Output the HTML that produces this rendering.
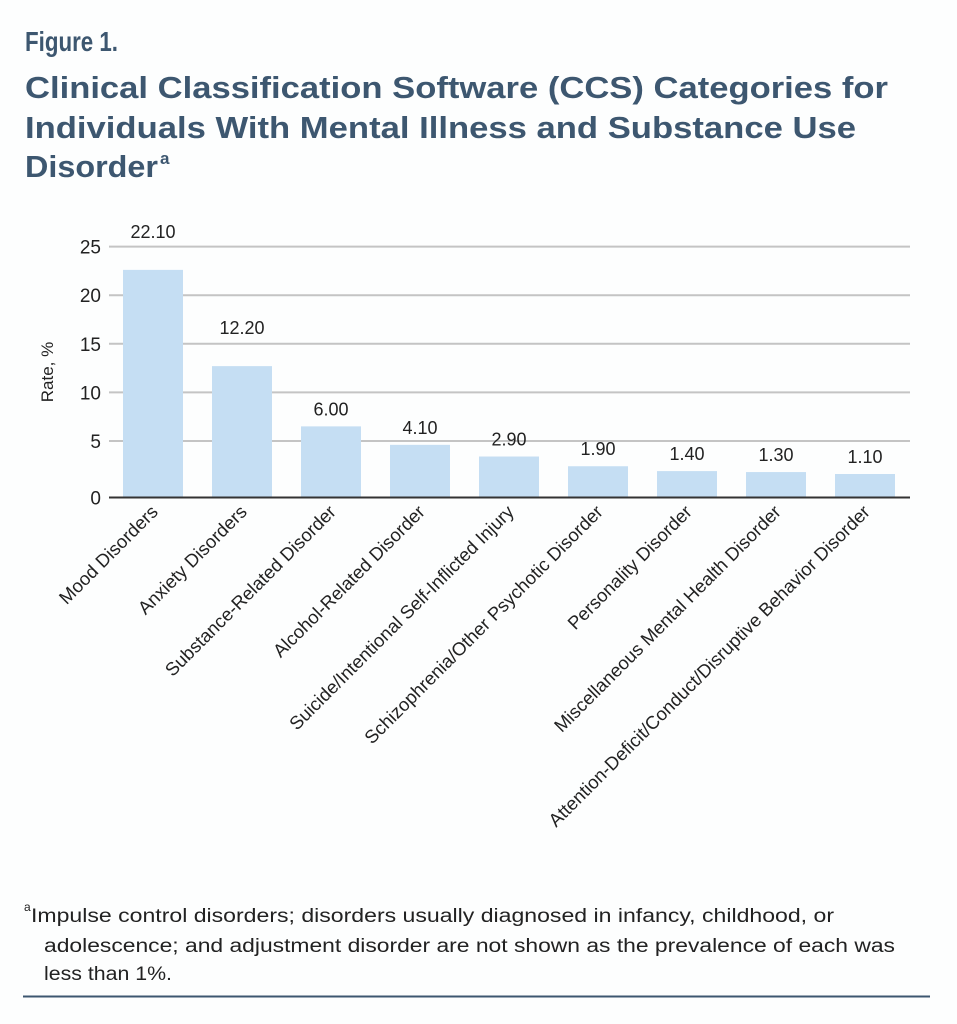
<!DOCTYPE html>
<html><head><meta charset="utf-8"><style>
html,body{margin:0;padding:0;background:#fdfefe;}
svg{display:block;font-family:"Liberation Sans",sans-serif;}
</style></head><body>
<svg id="chart" width="957" height="1024" viewBox="0 0 957 1024" xmlns="http://www.w3.org/2000/svg">
<rect x="0" y="0" width="957" height="1024" fill="#fdfefe"/>
<text x="25" y="51" font-size="28" font-weight="bold" fill="#3d5770" textLength="93" lengthAdjust="spacingAndGlyphs">Figure 1.</text>
<g font-size="31" font-weight="bold" fill="#3d5770">
<text x="25" y="98" textLength="863" lengthAdjust="spacingAndGlyphs">Clinical Classification Software (CCS) Categories for</text>
<text x="25" y="138" textLength="831" lengthAdjust="spacingAndGlyphs">Individuals With Mental Illness and Substance Use</text>
<text x="25" y="177" textLength="133" lengthAdjust="spacingAndGlyphs">Disorder</text>
<text x="160" y="164" font-size="17">a</text>
</g>
<g id="grid"></g>
<g id="bars"></g>
<g id="labels"></g>
<text transform="translate(53,372) rotate(-90)" text-anchor="middle" font-size="17" fill="#222">Rate, %</text>
<g font-size="19" fill="#222">
<text x="24" y="911" font-size="12">a</text>
<text x="31" y="922" textLength="803" lengthAdjust="spacingAndGlyphs">Impulse control disorders; disorders usually diagnosed in infancy, childhood, or</text>
<text x="44" y="952" textLength="851" lengthAdjust="spacingAndGlyphs">adolescence; and adjustment disorder are not shown as the prevalence of each was</text>
<text x="44" y="980" textLength="128" lengthAdjust="spacingAndGlyphs">less than 1%.</text>
</g>
<line x1="23" y1="996.5" x2="930" y2="996.5" stroke="#3d5770" stroke-width="2"/>
</svg>
<script>
const categories = ["Mood Disorders","Anxiety Disorders","Substance-Related Disorder","Alcohol-Related Disorder","Suicide/Intentional Self-Inflicted Injury","Schizophrenia/Other Psychotic Disorder","Personality Disorder","Miscellaneous Mental Health Disorder","Attention-Deficit/Conduct/Disruptive Behavior Disorder"];
const values = [22.10,12.20,6.00,4.10,2.90,1.90,1.40,1.30,1.10];
const valueLabels = ["22.10","12.20","6.00","4.10","2.90","1.90","1.40","1.30","1.10"];
const yTicks = [0,5,10,15,20,25];

const NS = "http://www.w3.org/2000/svg";
const plotLeft = 109, plotRight = 910, baseY = 497.5;
const yZero = 489.6, pxPerUnit = 9.72;
function y(v){ return yZero - v * pxPerUnit; }
const step = (plotRight - plotLeft) / categories.length;
function xCenter(i){ return plotLeft + step * (i + 0.5) - 0.5; }
const barW = 60;
function mk(tag, attrs){ const e = document.createElementNS(NS, tag); for (const k in attrs) e.setAttribute(k, attrs[k]); return e; }

const grid = document.getElementById('grid');
yTicks.forEach(t => {
  const gy = t === 0 ? baseY : y(t);
  if (t !== 0) {
    const l = mk('line', {x1: plotLeft, x2: plotRight, y1: gy, y2: gy, stroke: '#c4c4c4', 'stroke-width': 2});
    
    
    grid.appendChild(l);
  }
  const tx = mk('text', {x: 101, y: gy + 7, 'text-anchor': 'end', 'font-size': 19, fill: '#222'});
  tx.textContent = t;
  
  
  grid.appendChild(tx);
});

const bars = document.getElementById('bars');
const labels = document.getElementById('labels');
values.forEach((v, i) => {
  const top = y(v) - 4.9;
  const r = mk('rect', {x: xCenter(i) - barW/2, y: top, width: barW, height: baseY - top, fill: '#c5def3'});
  
  
  bars.appendChild(r);
  const gap = v > 10 ? 32 : 11;
  const vl = mk('text', {x: xCenter(i), y: top - gap, 'text-anchor': 'middle', 'font-size': 18, fill: '#222'});
  vl.textContent = valueLabels[i];
  
  
  labels.appendChild(vl);
  const cx = xCenter(i) + 6, cy = 513;
  const cl = mk('text', {x: cx, y: cy, 'text-anchor': 'end', 'font-size': 18.5, fill: '#222', transform: 'rotate(-45 ' + cx + ' ' + cy + ')'});
  cl.textContent = categories[i];
  
  
  labels.appendChild(cl);
});
const ax = mk('line', {x1: plotLeft, x2: plotRight, y1: baseY, y2: baseY, stroke: '#333', 'stroke-width': 2});


bars.appendChild(ax);
</script>
</body></html>
